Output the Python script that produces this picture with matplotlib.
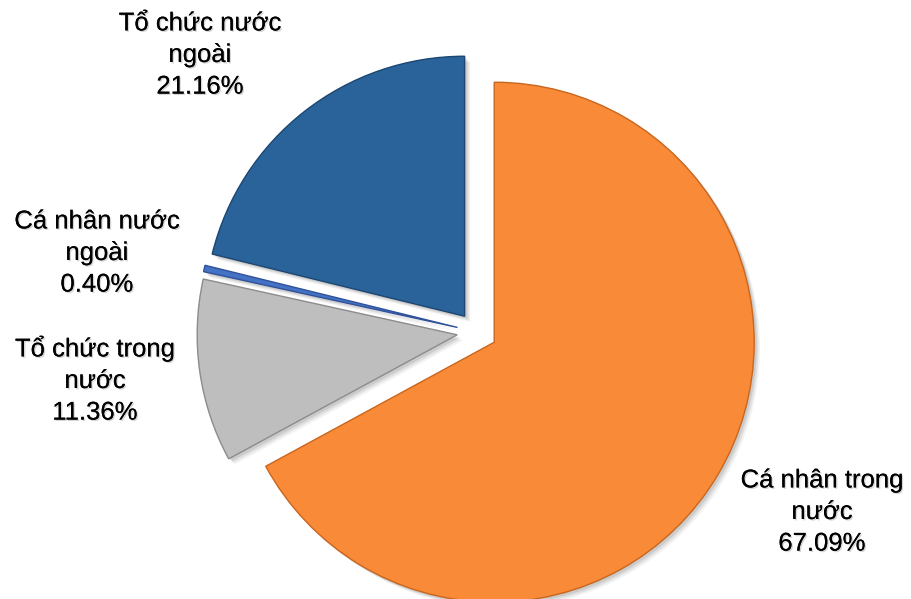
import matplotlib
matplotlib.use("Agg")
import matplotlib.pyplot as plt
import matplotlib.patheffects as pe

plt.rcParams["font.family"] = ["Liberation Sans", "DejaVu Sans"]

# slices, clockwise from 12 o'clock
labels = ["Cá nhân trong\nnước", "Tổ chức trong\nnước", "Cá nhân nước\nngoài", "Tổ chức nước\nngoài"]
shares = [67.09, 11.36, 0.40, 21.16]
colors = ["#F88A38", "#BEBEBE", "#4472C4", "#2A6399"]
edges = ["#C9661E", "#8C8C8C", "#2F529A", "#1D4672"]

# label centres in pixels of the 911x599 picture
label_px = [(822, 512), (95, 380), (97, 253), (200, 55)]

W, H = 911, 599
R = 260.0           # pie radius in px
CX, CY = 477, 332   # pie centre in px (from top-left)

fig = plt.figure(figsize=(W / 100, H / 100), dpi=100)
ax = fig.add_axes([0, 0, 1, 1])

explode = [0.077] * len(shares)
# soft drop shadow
for dx, a in [(0.022, 0.05), (0.016, 0.07), (0.010, 0.09)]:
    ax.pie(shares, explode=explode, startangle=90, counterclock=False,
           center=(dx, -dx), colors=["#000000"] * len(shares),
           wedgeprops={"alpha": a, "linewidth": 0})
wedges, _ = ax.pie(shares, explode=explode, startangle=90, counterclock=False,
                   colors=colors, wedgeprops={"linewidth": 1.0})
for w, ec in zip(wedges, edges):
    w.set_edgecolor(ec)

ax.set_xlim(-CX / R, (W - CX) / R)
ax.set_ylim((CY - H) / R, CY / R)
ax.set_aspect("equal")
ax.axis("off")

shadow = [pe.withSimplePatchShadow(offset=(1, -1), shadow_rgbFace="#999999", alpha=0.4), pe.Normal()]
for lab, v, (px, py) in zip(labels, shares, label_px):
    ax.text((px - CX) / R, (CY - py) / R, f"{lab}\n{v:.2f}%", ha="center", va="center",
            fontsize=18.5, linespacing=1.4, color="#000000", path_effects=shadow)

fig.savefig("out.png", dpi=100, facecolor="white")
